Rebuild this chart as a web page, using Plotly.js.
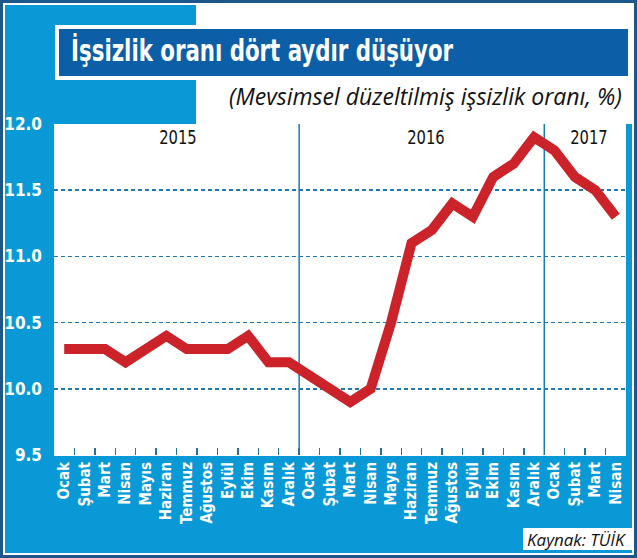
<!DOCTYPE html>
<html>
<head>
<meta charset="utf-8">
<script src="https://cdn.plot.ly/plotly-3.0.1.min.js"></script>
<style>
  html, body { margin: 0; padding: 0; background: #ffffff; }
  #chart { width: 637px; height: 558px; }
</style>
</head>
<body>
<div id="chart"></div>
<script>
// ---- data ----
const months = ['Ocak','Şubat','Mart','Nisan','Mayıs','Haziran','Temmuz','Ağustos','Eylül','Ekim','Kasım','Aralık'];
const years = ['2015','2016','2017'];
const periods2015 = months.map(m => m + ' 2015');
const periods2016 = months.map(m => m + ' 2016');
const periods2017 = months.slice(0, 4).map(m => m + ' 2017');
const periods = periods2015.concat(periods2016, periods2017);
const tickLabels = months.concat(months, months.slice(0, 4));
const rate2015 = [10.3, 10.3, 10.3, 10.2, 10.3, 10.4, 10.3, 10.3, 10.3, 10.4, 10.2, 10.2];
const rate2016 = [10.1, 10.0, 9.9, 10.0, 10.5, 11.1, 11.2, 11.4, 11.3, 11.6, 11.7, 11.9];
const rate2017 = [11.8, 11.6, 11.5, 11.3];
const rates = rate2015.concat(rate2016, rate2017);
const yTicks = [9.5, 10.0, 10.5, 11.0, 11.5, 12.0];

const titleText = 'İşsizlik oranı dört aydır düşüyor';
const subtitleText = '(Mevsimsel düzeltilmiş işsizlik oranı, %)';
const sourceText = 'Kaynak: TÜİK';

// ---- geometry helpers (pixel -> paper) ----
const W = 637, H = 558, L = 54, R = 11, T = 124, B = 103;
const PW = W - L - R, PH = H - T - B;
const px = x => (x - L) / PW;
const py = y => (H - B - y) / PH;

const LIGHT = '#0a99d7';
const DARK = '#0c5fa6';
const FRAME = '#1d568b';
const NARROW = 'DejaVu Sans Condensed, Roboto, Arial, sans-serif';
const ITAL = 'Open Sans, Noto Sans, sans-serif';

function rect(x0, y0, x1, y1, fill, line, lw) {
  return {type: 'rect', xref: 'paper', yref: 'paper', layer: 'below',
    x0: px(x0), x1: px(x1), y0: py(y1), y1: py(y0),
    fillcolor: fill || 'rgba(0,0,0,0)',
    line: {color: line || 'rgba(0,0,0,0)', width: lw || 0}};
}

const shapes = [
  rect(1.5, 1.5, 635.5, 556.5, null, FRAME, 3),
  rect(4, 4, 633, 554, null, '#ffffff', 2),
  rect(196, 5, 632, 124, '#ffffff'),
  rect(55, 25, 630, 80, '#ffffff'),
  rect(59, 29, 628, 76, DARK),
  rect(523, 528, 632, 550, '#ffffff'),
  // year separators
  {type: 'line', xref: 'x', yref: 'paper', layer: 'below', x0: 11.5, x1: 11.5, y0: 0, y1: 1,
    line: {color: '#1b78bd', width: 1.5}},
  {type: 'line', xref: 'x', yref: 'paper', layer: 'below', x0: 23.5, x1: 23.5, y0: 0, y1: 1,
    line: {color: '#1b78bd', width: 1.5}}
];

const annotations = [
  {text: titleText, xref: 'paper', yref: 'paper', x: px(69), y: py(51), xanchor: 'left', yanchor: 'middle',
    showarrow: false, font: {family: NARROW, size: 30, color: '#ffffff', weight: 'bold'}},
  {text: subtitleText, xref: 'paper', yref: 'paper', x: px(624), y: py(96), xanchor: 'right', yanchor: 'middle',
    showarrow: false, font: {family: ITAL, size: 23, color: '#111111', style: 'italic'}},
  {text: sourceText, xref: 'paper', yref: 'paper', x: px(629), y: py(539), xanchor: 'right', yanchor: 'middle',
    showarrow: false, font: {family: ITAL, size: 17, color: '#111111', style: 'italic'}},
  {text: years[0], xref: 'x', yref: 'paper', x: 5.55, y: py(137), xanchor: 'center', yanchor: 'middle',
    showarrow: false, font: {family: NARROW, size: 20, color: '#111111'}},
  {text: years[1], xref: 'x', yref: 'paper', x: 17.7, y: py(137), xanchor: 'center', yanchor: 'middle',
    showarrow: false, font: {family: NARROW, size: 20, color: '#111111'}},
  {text: years[2], xref: 'x', yref: 'paper', x: 25.7, y: py(137), xanchor: 'center', yanchor: 'middle',
    showarrow: false, font: {family: NARROW, size: 20, color: '#111111'}}
];

const trace = {
  x: periods, y: rates, type: 'scatter', mode: 'lines',
  line: {color: '#cc2229', width: 10, shape: 'linear'},
  hoverinfo: 'skip'
};

const layout = {
  width: W, height: H,
  margin: {l: L, r: R, t: T, b: B, pad: 0},
  paper_bgcolor: LIGHT,
  plot_bgcolor: '#ffffff',
  showlegend: false,
  xaxis: {
    type: 'category',
    tickmode: 'array', tickvals: periods, ticktext: tickLabels,
    tickson: 'boundaries', ticks: 'inside', ticklen: 7, tickwidth: 1.5, tickcolor: '#2a6f9e',
    tickangle: -90,
    tickfont: {family: NARROW, size: 15, color: '#ffffff', weight: 'bold'},
    showgrid: false, zeroline: false,
    showline: true, linecolor: '#ffffff', linewidth: 1,
    range: [-0.5, periods.length - 0.5],
    fixedrange: true
  },
  yaxis: {
    range: [9.5, 12.0],
    tickmode: 'array', tickvals: yTicks, ticktext: yTicks.map(v => v.toFixed(1)),
    ticks: '', ticklabelstandoff: 11,
    tickfont: {family: NARROW, size: 17, color: '#ffffff', weight: 'bold'},
    showgrid: true, gridcolor: '#1f79b0', gridwidth: 1.5, griddash: '4px,3px',
    zeroline: false, showline: false,
    fixedrange: true
  },
  shapes: shapes,
  annotations: annotations
};

// horizontally condense an annotation's text (real text kept), about an anchor
function condense(gd, index, s, mode) {
  const el = gd.querySelector('.annotation[data-index="' + index + '"] text.annotation-text');
  if (!el) return;
  const bb = el.getBBox();
  const ax = mode === 'left' ? bb.x : (mode === 'right' ? bb.x + bb.width : bb.x + bb.width / 2);
  const prev = el.getAttribute('transform') || '';
  el.setAttribute('transform', 'translate(' + ax + ',0) scale(' + s + ',1) translate(' + (-ax) + ',0) ' + prev);
}

Plotly.newPlot('chart', [trace], layout, {displayModeBar: false, staticPlot: true}).then(gd => {
  condense(gd, 0, 0.79, 'left');
  condense(gd, 3, 0.82, 'center');
  condense(gd, 4, 0.82, 'center');
  condense(gd, 5, 0.82, 'center');
});
</script>
</body>
</html>
